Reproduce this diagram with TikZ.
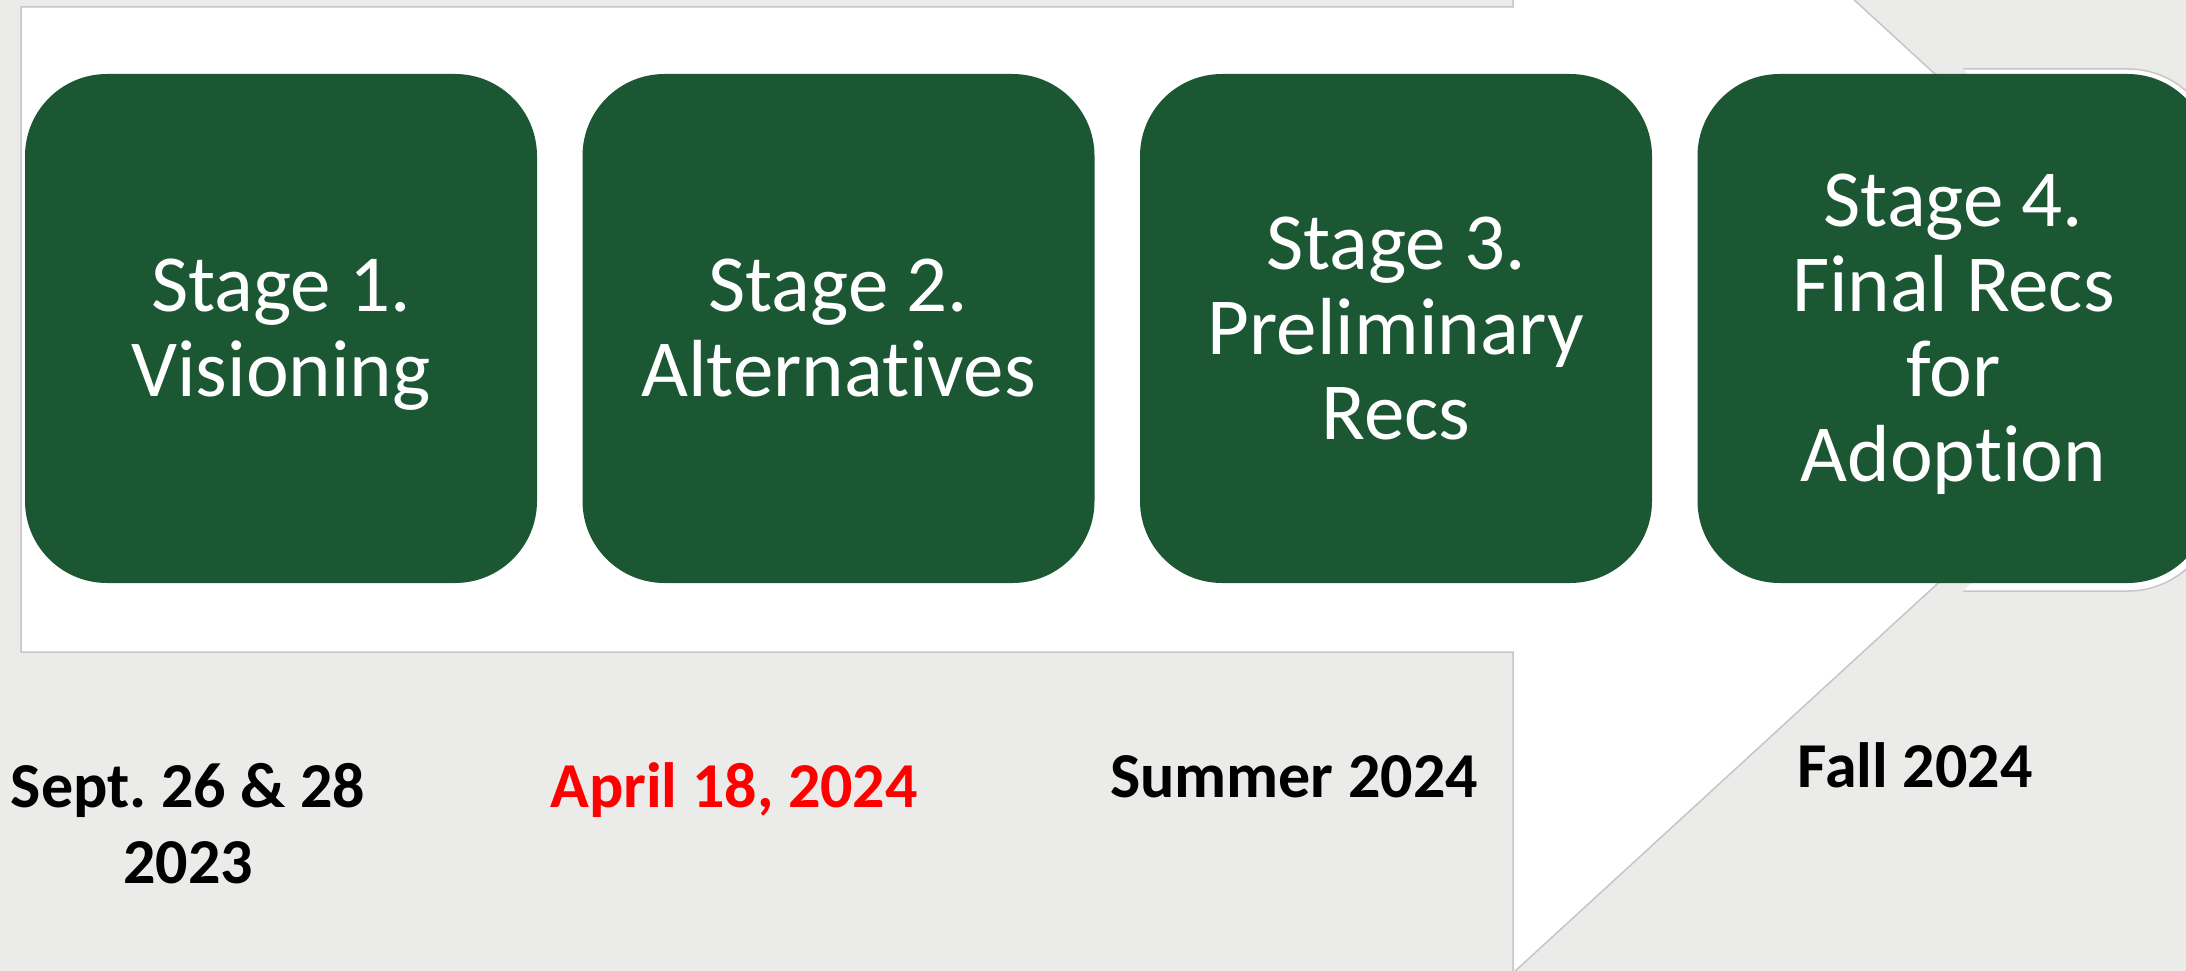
\documentclass[tikz,border=0pt]{standalone}
\usepackage{fontspec}
\setmainfont{Carlito}[Ligatures={NoCommon,NoRare,NoContextual}]
\frenchspacing
\definecolor{bggray}{RGB}{235,235,233}
\definecolor{edgegray}{RGB}{198,198,198}
\definecolor{stagegreen}{RGB}{28,87,52}
\definecolor{datered}{RGB}{255,0,0}
\tikzset{
  stagebox/.style={fill=stagegreen, draw=none, rounded corners=82pt,
    minimum width=512pt, minimum height=509pt, inner sep=0pt},
  stagetext/.style={text=white, align=center, inner sep=0pt,
    font=\fontsize{81}{85}\selectfont},
  datetext/.style={text=black, align=center, inner sep=0pt,
    font=\fontsize{64}{76}\selectfont\bfseries},
}
\begin{document}
\begin{tikzpicture}[x=1pt,y=-1pt]
\useasboundingbox (0,0) rectangle (2186,971);
\clip (0,0) rectangle (2186,971);
\fill[bggray] (0,0) rectangle (2186,971);
% big white arrow
\filldraw[fill=white, draw=edgegray, line width=1.5pt]
  (21,7) -- (1513,7) -- (1513,-313) -- (2214,330) -- (1513,973) -- (1513,652) -- (21,652) -- cycle;
% white halo around stage 4, visible only outside the arrow head
\begin{scope}
  \clip (1513,-400) -- (2214,330) -- (1513,1060) -- (2400,1060) -- (2400,-400) -- cycle;
  \filldraw[fill=white, draw=edgegray, line width=1.5pt, rounded corners=88pt]
    (1691,69) rectangle (2216,591);
\end{scope}
% stage boxes
\node[stagebox] (b1) at (281,328.5) {};
\node[stagebox] (b2) at (838.5,328.5) {};
\node[stagebox] (b3) at (1396,328.5) {};
\node[stagebox] (b4) at (1953.5,328.5) {};
% stage texts
\node[stagetext] (t1) at (281,337) {\strut Stage 1.\\\strut Visioning};
\node[stagetext] (t2) at (838.5,337) {\strut Stage 2.\\\strut Alternatives};
\node[stagetext] (t3) at (1396,337) {\strut Stage 3.\\\strut Preliminary\\\strut Recs};
\node[stagetext] (t4) at (1953.5,337) {\strut Stage 4.\\\strut Final Recs\\\strut for\\\strut Adoption};
% dates
\node[datetext] (d1) at (188,830) {\strut Sept. 26 \& 28\\\strut 2023};
\node[datetext, text=datered, anchor=base] (d2) at (734,807) {April 18, 2024};
\node[datetext, anchor=base] (d3) at (1294,797) {Summer 2024};
\node[datetext, anchor=base] (d4) at (1915,787) {Fall 2024};
\end{tikzpicture}
\end{document}
